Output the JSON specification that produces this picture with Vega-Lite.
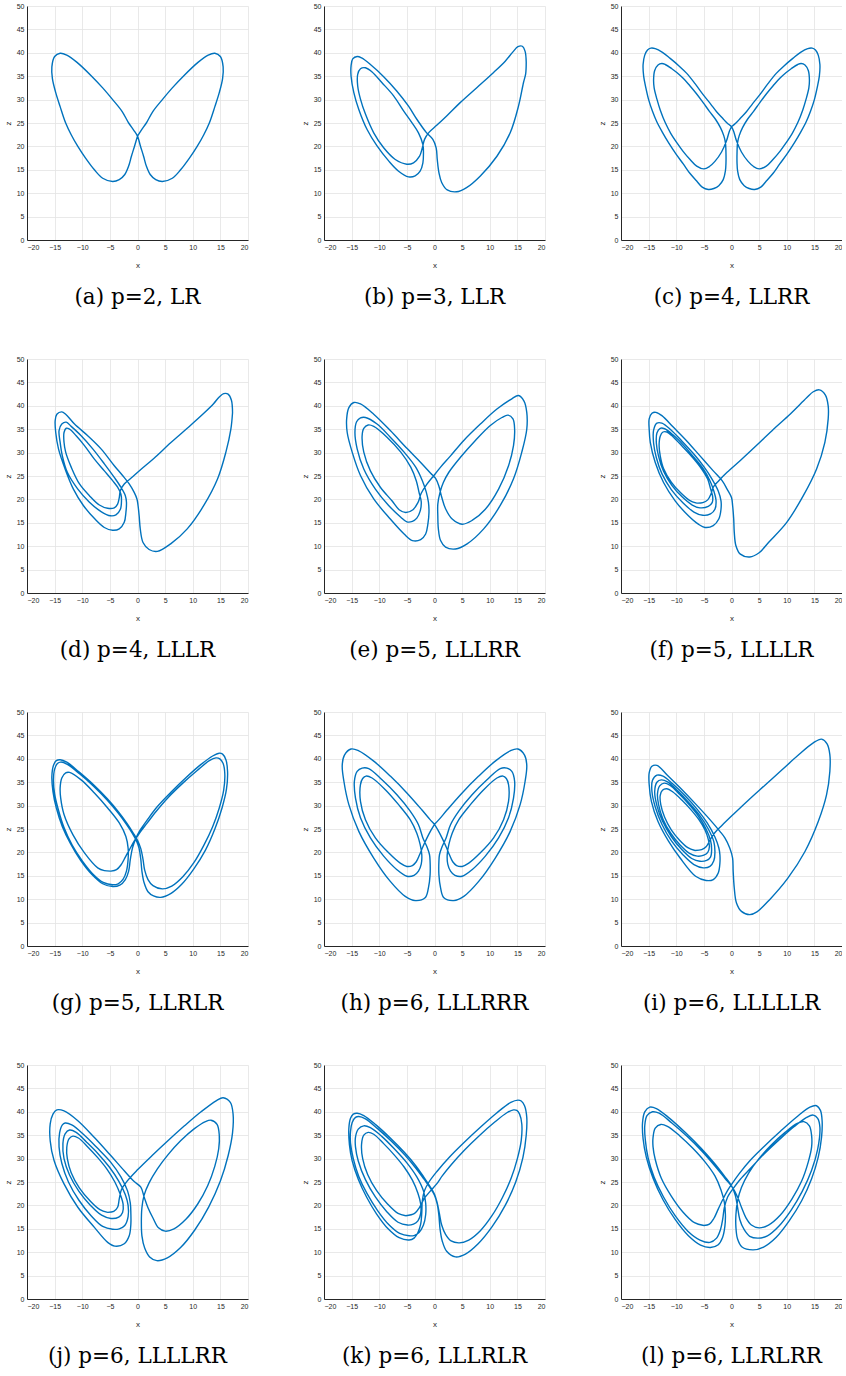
{
  "$schema": "https://vega.github.io/schema/vega-lite/v6.json",
  "background": "white",
  "padding": {"left": 4, "top": 2, "right": 0, "bottom": 0},
  "datasets": {
    "captions": [
      {"p": "a", "caption": "(a) p=2, LR"},
      {"p": "b", "caption": "(b) p=3, LLR"},
      {"p": "c", "caption": "(c) p=4, LLRR"},
      {"p": "d", "caption": "(d) p=4, LLLR"},
      {"p": "e", "caption": "(e) p=5, LLLRR"},
      {"p": "f", "caption": "(f) p=5, LLLLR"},
      {"p": "g", "caption": "(g) p=5, LLRLR"},
      {"p": "h", "caption": "(h) p=6, LLLRRR"},
      {"p": "i", "caption": "(i) p=6, LLLLLR"},
      {"p": "j", "caption": "(j) p=6, LLLLRR"},
      {"p": "k", "caption": "(k) p=6, LLLRLR"},
      {"p": "l", "caption": "(l) p=6, LLRLRR"}
    ],
    "orbits": [
      {"p":"a","x":0,"z":22.2},{"p":"a","x":-0.5,"z":20.2},{"p":"a","x":-1.1,"z":17.9},{"p":"a","x":-1.6,"z":15.8},{"p":"a","x":-2.3,"z":14},{"p":"a","x":-3.3,"z":12.9},{"p":"a","x":-4.5,"z":12.5},{"p":"a","x":-6.3,"z":13.2},{"p":"a","x":-7.8,"z":15},{"p":"a","x":-9.4,"z":17.5},{"p":"a","x":-10.8,"z":20},{"p":"a","x":-12,"z":22.5},{"p":"a","x":-13,"z":25},{"p":"a","x":-14,"z":28.5},{"p":"a","x":-14.8,"z":31.5},{"p":"a","x":-15.4,"z":34.5},{"p":"a","x":-15.5,"z":37},{"p":"a","x":-15,"z":39.2},{"p":"a","x":-14,"z":39.9},{"p":"a","x":-12.8,"z":39.5},{"p":"a","x":-11,"z":38},{"p":"a","x":-8.3,"z":35},{"p":"a","x":-6.3,"z":32.5},{"p":"a","x":-4.5,"z":30},{"p":"a","x":-2.8,"z":27.5},{"p":"a","x":-1.6,"z":25},{"p":"a","x":-0.7,"z":23.5},
      {"p":"a","x":0,"z":22.2},{"p":"a","x":0.5,"z":20.2},{"p":"a","x":1.1,"z":17.9},{"p":"a","x":1.6,"z":15.8},{"p":"a","x":2.3,"z":14},{"p":"a","x":3.3,"z":12.9},{"p":"a","x":4.5,"z":12.5},{"p":"a","x":6.3,"z":13.2},{"p":"a","x":7.8,"z":15},{"p":"a","x":9.4,"z":17.5},{"p":"a","x":10.8,"z":20},{"p":"a","x":12,"z":22.5},{"p":"a","x":13,"z":25},{"p":"a","x":14,"z":28.5},{"p":"a","x":14.8,"z":31.5},{"p":"a","x":15.4,"z":34.5},{"p":"a","x":15.5,"z":37},{"p":"a","x":15,"z":39.2},{"p":"a","x":14,"z":39.9},{"p":"a","x":12.8,"z":39.5},{"p":"a","x":11,"z":38},{"p":"a","x":8.3,"z":35},{"p":"a","x":6.3,"z":32.5},{"p":"a","x":4.5,"z":30},{"p":"a","x":2.8,"z":27.5},{"p":"a","x":1.6,"z":25},{"p":"a","x":0.7,"z":23.5},{"p":"a","x":0,"z":22.2},

      {"p":"b","x":16.6,"z":38},{"p":"b","x":16.5,"z":35.5},{"p":"b","x":16.1,"z":33.6},{"p":"b","x":15.2,"z":28.6},{"p":"b","x":13.7,"z":22.9},{"p":"b","x":11.3,"z":17.9},{"p":"b","x":8.3,"z":13.7},{"p":"b","x":5.8,"z":11.2},{"p":"b","x":4,"z":10.3},{"p":"b","x":2.3,"z":10.7},{"p":"b","x":1.3,"z":12.3},{"p":"b","x":0.8,"z":14.4},{"p":"b","x":0.5,"z":17.2},{"p":"b","x":0.3,"z":19.7},{"p":"b","x":-0.3,"z":21.5},{"p":"b","x":-1.5,"z":23},{"p":"b","x":-3.2,"z":25.8},{"p":"b","x":-4.7,"z":28.6},{"p":"b","x":-6.8,"z":31.8},{"p":"b","x":-9.2,"z":34.9},{"p":"b","x":-11.6,"z":37.5},{"p":"b","x":-13.2,"z":38.9},{"p":"b","x":-14,"z":39.2},{"p":"b","x":-14.8,"z":38.7},{"p":"b","x":-15.1,"z":37.2},{"p":"b","x":-15.1,"z":35},{"p":"b","x":-14.6,"z":31.5},{"p":"b","x":-13.7,"z":27.9},{"p":"b","x":-12.2,"z":23.6},{"p":"b","x":-10.4,"z":20.1},{"p":"b","x":-8.3,"z":16.9},{"p":"b","x":-6.5,"z":14.7},{"p":"b","x":-4.7,"z":13.5},{"p":"b","x":-3.5,"z":13.7},{"p":"b","x":-2.6,"z":14.7},{"p":"b","x":-2.1,"z":16.5},{"p":"b","x":-2,"z":18.7},{"p":"b","x":-2.1,"z":20.4},{"p":"b","x":-2.9,"z":22.9},{"p":"b","x":-4.1,"z":25.1},{"p":"b","x":-5.6,"z":27.6},{"p":"b","x":-7.4,"z":30.8},{"p":"b","x":-9.5,"z":33.6},{"p":"b","x":-11.3,"z":35.9},{"p":"b","x":-12.5,"z":36.8},{"p":"b","x":-13.4,"z":36.6},{"p":"b","x":-13.9,"z":35.4},{"p":"b","x":-13.9,"z":32.9},{"p":"b","x":-13.4,"z":30.1},{"p":"b","x":-12.5,"z":26.9},{"p":"b","x":-11,"z":22.9},{"p":"b","x":-9.2,"z":19.7},{"p":"b","x":-7.1,"z":17.2},{"p":"b","x":-5,"z":16.2},{"p":"b","x":-3.8,"z":16.5},{"p":"b","x":-2.7,"z":17.9},{"p":"b","x":-2.2,"z":19.7},{"p":"b","x":-1.8,"z":21.5},{"p":"b","x":-1,"z":23},{"p":"b","x":0.4,"z":24.5},{"p":"b","x":2.2,"z":26.5},{"p":"b","x":4.6,"z":29.3},{"p":"b","x":7.7,"z":32.6},{"p":"b","x":10.7,"z":35.8},{"p":"b","x":12.8,"z":38.2},{"p":"b","x":14.2,"z":40.2},{"p":"b","x":15.1,"z":41.3},{"p":"b","x":15.9,"z":41.4},{"p":"b","x":16.4,"z":40.3},{"p":"b","x":16.6,"z":38},

      {"p":"c","x":0,"z":24.2},{"p":"c","x":-0.4,"z":23.2},{"p":"c","x":-0.9,"z":21.2},{"p":"c","x":-1.8,"z":18.8},{"p":"c","x":-3,"z":16.8},{"p":"c","x":-4,"z":15.7},{"p":"c","x":-5,"z":15.2},{"p":"c","x":-6.3,"z":15.8},{"p":"c","x":-7.5,"z":17.2},{"p":"c","x":-8.8,"z":19},{"p":"c","x":-9.9,"z":20.8},{"p":"c","x":-11,"z":22.8},{"p":"c","x":-12,"z":25.1},{"p":"c","x":-12.9,"z":27.8},{"p":"c","x":-13.5,"z":30.1},{"p":"c","x":-14,"z":32.5},{"p":"c","x":-14.1,"z":34.3},{"p":"c","x":-13.9,"z":36.2},{"p":"c","x":-13.3,"z":37.4},{"p":"c","x":-12.6,"z":37.7},{"p":"c","x":-12,"z":37.5},{"p":"c","x":-10.8,"z":36.6},{"p":"c","x":-9.9,"z":35.8},{"p":"c","x":-8.7,"z":34.5},{"p":"c","x":-7.5,"z":32.9},{"p":"c","x":-6.3,"z":31.2},{"p":"c","x":-5.1,"z":29.3},{"p":"c","x":-4,"z":27.5},{"p":"c","x":-2.9,"z":25.8},{"p":"c","x":-2,"z":24},{"p":"c","x":-1.4,"z":22.3},{"p":"c","x":-1.1,"z":20.8},{"p":"c","x":-1,"z":18.5},{"p":"c","x":-1,"z":16.5},{"p":"c","x":-1.1,"z":14.8},{"p":"c","x":-1.5,"z":12.9},{"p":"c","x":-2.3,"z":11.6},{"p":"c","x":-3.2,"z":11},{"p":"c","x":-4.2,"z":10.8},{"p":"c","x":-5.3,"z":11.3},{"p":"c","x":-6.3,"z":12.6},{"p":"c","x":-7.5,"z":14.2},{"p":"c","x":-8.7,"z":16.2},{"p":"c","x":-10,"z":18.3},{"p":"c","x":-11.4,"z":20.8},{"p":"c","x":-12.5,"z":23},{"p":"c","x":-13.5,"z":25.2},{"p":"c","x":-14.3,"z":27.5},{"p":"c","x":-15,"z":30},{"p":"c","x":-15.5,"z":32.5},{"p":"c","x":-15.9,"z":35},{"p":"c","x":-16,"z":37.5},{"p":"c","x":-15.7,"z":39.5},{"p":"c","x":-15.2,"z":40.6},{"p":"c","x":-14.6,"z":41},{"p":"c","x":-13.8,"z":40.9},{"p":"c","x":-12.5,"z":40.1},{"p":"c","x":-11.1,"z":38.8},{"p":"c","x":-9.5,"z":37.2},{"p":"c","x":-8.1,"z":35.6},{"p":"c","x":-6.6,"z":33.4},{"p":"c","x":-5.1,"z":31},{"p":"c","x":-3.8,"z":29.1},{"p":"c","x":-2.7,"z":27.4},{"p":"c","x":-1.6,"z":26},{"p":"c","x":-0.8,"z":25},
      {"p":"c","x":0,"z":24.2},{"p":"c","x":0.4,"z":23.2},{"p":"c","x":0.9,"z":21.2},{"p":"c","x":1.8,"z":18.8},{"p":"c","x":3,"z":16.8},{"p":"c","x":4,"z":15.7},{"p":"c","x":5,"z":15.2},{"p":"c","x":6.3,"z":15.8},{"p":"c","x":7.5,"z":17.2},{"p":"c","x":8.8,"z":19},{"p":"c","x":9.9,"z":20.8},{"p":"c","x":11,"z":22.8},{"p":"c","x":12,"z":25.1},{"p":"c","x":12.9,"z":27.8},{"p":"c","x":13.5,"z":30.1},{"p":"c","x":14,"z":32.5},{"p":"c","x":14.1,"z":34.3},{"p":"c","x":13.9,"z":36.2},{"p":"c","x":13.3,"z":37.4},{"p":"c","x":12.6,"z":37.7},{"p":"c","x":12,"z":37.5},{"p":"c","x":10.8,"z":36.6},{"p":"c","x":9.9,"z":35.8},{"p":"c","x":8.7,"z":34.5},{"p":"c","x":7.5,"z":32.9},{"p":"c","x":6.3,"z":31.2},{"p":"c","x":5.1,"z":29.3},{"p":"c","x":4,"z":27.5},{"p":"c","x":2.9,"z":25.8},{"p":"c","x":2,"z":24},{"p":"c","x":1.4,"z":22.3},{"p":"c","x":1.1,"z":20.8},{"p":"c","x":1,"z":18.5},{"p":"c","x":1,"z":16.5},{"p":"c","x":1.1,"z":14.8},{"p":"c","x":1.5,"z":12.9},{"p":"c","x":2.3,"z":11.6},{"p":"c","x":3.2,"z":11},{"p":"c","x":4.2,"z":10.8},{"p":"c","x":5.3,"z":11.3},{"p":"c","x":6.3,"z":12.6},{"p":"c","x":7.5,"z":14.2},{"p":"c","x":8.7,"z":16.2},{"p":"c","x":10,"z":18.3},{"p":"c","x":11.4,"z":20.8},{"p":"c","x":12.5,"z":23},{"p":"c","x":13.5,"z":25.2},{"p":"c","x":14.3,"z":27.5},{"p":"c","x":15,"z":30},{"p":"c","x":15.5,"z":32.5},{"p":"c","x":15.9,"z":35},{"p":"c","x":16,"z":37.5},{"p":"c","x":15.7,"z":39.5},{"p":"c","x":15.2,"z":40.6},{"p":"c","x":14.6,"z":41},{"p":"c","x":13.8,"z":40.9},{"p":"c","x":12.5,"z":40.1},{"p":"c","x":11.1,"z":38.8},{"p":"c","x":9.5,"z":37.2},{"p":"c","x":8.1,"z":35.6},{"p":"c","x":6.6,"z":33.4},{"p":"c","x":5.1,"z":31},{"p":"c","x":3.8,"z":29.1},{"p":"c","x":2.7,"z":27.4},{"p":"c","x":1.6,"z":26},{"p":"c","x":0.8,"z":25},{"p":"c","x":0,"z":24.2},

      {"p":"d","x":17.2,"z":38.5},{"p":"d","x":16.9,"z":35},{"p":"d","x":16,"z":30.1},{"p":"d","x":14.5,"z":24.4},{"p":"d","x":12,"z":18.7},{"p":"d","x":9,"z":13.7},{"p":"d","x":6,"z":10.5},{"p":"d","x":3.6,"z":8.9},{"p":"d","x":2.1,"z":9.3},{"p":"d","x":1,"z":10.8},{"p":"d","x":0.5,"z":13.7},{"p":"d","x":0.3,"z":16.5},{"p":"d","x":0.1,"z":18.7},{"p":"d","x":-0.1,"z":20.1},{"p":"d","x":-0.6,"z":21.5},{"p":"d","x":-1.5,"z":23.3},{"p":"d","x":-2.7,"z":25.1},{"p":"d","x":-4.2,"z":27.2},{"p":"d","x":-6.6,"z":30.8},{"p":"d","x":-9,"z":33.6},{"p":"d","x":-11.4,"z":36.1},{"p":"d","x":-13,"z":38.2},{"p":"d","x":-13.7,"z":38.7},{"p":"d","x":-14.6,"z":38.2},{"p":"d","x":-14.9,"z":36.8},{"p":"d","x":-14.8,"z":34.3},{"p":"d","x":-14.3,"z":30.8},{"p":"d","x":-13.1,"z":26.5},{"p":"d","x":-11.6,"z":22.2},{"p":"d","x":-9.8,"z":18.7},{"p":"d","x":-7.7,"z":15.8},{"p":"d","x":-6,"z":14},{"p":"d","x":-4.5,"z":13.4},{"p":"d","x":-3.3,"z":13.7},{"p":"d","x":-2.4,"z":15.1},{"p":"d","x":-2.1,"z":17.2},{"p":"d","x":-2,"z":19.4},{"p":"d","x":-2.2,"z":20.8},{"p":"d","x":-3,"z":22.6},{"p":"d","x":-4.2,"z":24.7},{"p":"d","x":-6,"z":27.6},{"p":"d","x":-8.1,"z":30.8},{"p":"d","x":-10.2,"z":33.6},{"p":"d","x":-12,"z":35.6},{"p":"d","x":-12.9,"z":36.5},{"p":"d","x":-13.7,"z":36.1},{"p":"d","x":-14.2,"z":34.7},{"p":"d","x":-14,"z":32.2},{"p":"d","x":-13.6,"z":29.3},{"p":"d","x":-12.7,"z":25.8},{"p":"d","x":-10.8,"z":22.2},{"p":"d","x":-8.7,"z":19.4},{"p":"d","x":-6.6,"z":17.4},{"p":"d","x":-4.9,"z":16.5},{"p":"d","x":-3.9,"z":16.7},{"p":"d","x":-3.1,"z":17.9},{"p":"d","x":-2.9,"z":19.7},{"p":"d","x":-3,"z":21.1},{"p":"d","x":-3.6,"z":22.6},{"p":"d","x":-4.5,"z":24},{"p":"d","x":-6,"z":26.1},{"p":"d","x":-7.8,"z":28.6},{"p":"d","x":-9.6,"z":31.5},{"p":"d","x":-11.1,"z":33.6},{"p":"d","x":-12.3,"z":35},{"p":"d","x":-12.9,"z":35.2},{"p":"d","x":-13.3,"z":34.3},{"p":"d","x":-13.3,"z":32.2},{"p":"d","x":-13,"z":30.1},{"p":"d","x":-12,"z":26.9},{"p":"d","x":-10.5,"z":23.3},{"p":"d","x":-8.7,"z":20.8},{"p":"d","x":-6.9,"z":18.8},{"p":"d","x":-5.4,"z":18.1},{"p":"d","x":-4.2,"z":18.2},{"p":"d","x":-3.6,"z":19},{"p":"d","x":-3.3,"z":20.4},{"p":"d","x":-3.1,"z":21.9},{"p":"d","x":-2.4,"z":23.3},{"p":"d","x":-1.2,"z":24.5},{"p":"d","x":0.6,"z":26.4},{"p":"d","x":3,"z":28.8},{"p":"d","x":6,"z":32.1},{"p":"d","x":9,"z":35.2},{"p":"d","x":12,"z":38.4},{"p":"d","x":13.8,"z":40.5},{"p":"d","x":14.8,"z":41.9},{"p":"d","x":15.6,"z":42.6},{"p":"d","x":16.4,"z":42.5},{"p":"d","x":17,"z":41.2},{"p":"d","x":17.2,"z":38.5},

      {"p":"e","x":-0.1,"z":25.1},{"p":"e","x":-1.4,"z":23.2},{"p":"e","x":-2.4,"z":21.3},{"p":"e","x":-3,"z":19.3},{"p":"e","x":-3.9,"z":17.8},{"p":"e","x":-5.2,"z":17.2},{"p":"e","x":-6.4,"z":17.8},{"p":"e","x":-7.7,"z":19.7},{"p":"e","x":-9.8,"z":22.6},{"p":"e","x":-11.6,"z":26.1},{"p":"e","x":-12.8,"z":30.1},{"p":"e","x":-13.1,"z":33.6},{"p":"e","x":-12.8,"z":35.2},{"p":"e","x":-12,"z":35.9},{"p":"e","x":-11,"z":35.6},{"p":"e","x":-8.6,"z":33.3},{"p":"e","x":-6.1,"z":30.1},{"p":"e","x":-4.3,"z":26.9},{"p":"e","x":-3.3,"z":24},{"p":"e","x":-2.8,"z":21.5},{"p":"e","x":-2.4,"z":19.5},{"p":"e","x":-2.6,"z":17.5},{"p":"e","x":-3.2,"z":16},{"p":"e","x":-4,"z":15.3},{"p":"e","x":-5,"z":15.2},{"p":"e","x":-6.1,"z":16.2},{"p":"e","x":-8.3,"z":18.7},{"p":"e","x":-10.7,"z":22.2},{"p":"e","x":-12.8,"z":26.5},{"p":"e","x":-14,"z":30.8},{"p":"e","x":-14.4,"z":34.3},{"p":"e","x":-14.1,"z":36.6},{"p":"e","x":-13.4,"z":37.4},{"p":"e","x":-12.5,"z":37.5},{"p":"e","x":-10.4,"z":36.1},{"p":"e","x":-8,"z":33.3},{"p":"e","x":-5.5,"z":30.1},{"p":"e","x":-3.4,"z":26.9},{"p":"e","x":-2.2,"z":24},{"p":"e","x":-1.5,"z":21.6},{"p":"e","x":-1.1,"z":19.4},{"p":"e","x":-1,"z":17.2},{"p":"e","x":-1.2,"z":14.7},{"p":"e","x":-1.6,"z":12.6},{"p":"e","x":-2.5,"z":11.4},{"p":"e","x":-4,"z":11.2},{"p":"e","x":-5.5,"z":12.6},{"p":"e","x":-8,"z":15.8},{"p":"e","x":-11,"z":20.1},{"p":"e","x":-13.4,"z":25.1},{"p":"e","x":-14.9,"z":30.1},{"p":"e","x":-15.8,"z":34.3},{"p":"e","x":-15.9,"z":37.2},{"p":"e","x":-15.5,"z":39.6},{"p":"e","x":-14.6,"z":40.7},{"p":"e","x":-13.4,"z":40.4},{"p":"e","x":-11,"z":38.2},{"p":"e","x":-8,"z":34.7},{"p":"e","x":-4.9,"z":30.8},{"p":"e","x":-2.5,"z":27.9},{"p":"e","x":-0.7,"z":25.6},{"p":"e","x":0.2,"z":24.5},{"p":"e","x":0.8,"z":22.8},{"p":"e","x":1.3,"z":20.5},{"p":"e","x":2,"z":18},{"p":"e","x":3.2,"z":15.8},{"p":"e","x":5,"z":14.7},{"p":"e","x":6.8,"z":15.5},{"p":"e","x":9.2,"z":17.9},{"p":"e","x":11.6,"z":22.2},{"p":"e","x":13.4,"z":27.2},{"p":"e","x":14.3,"z":31.5},{"p":"e","x":14.5,"z":35},{"p":"e","x":14.2,"z":37.2},{"p":"e","x":13.3,"z":38},{"p":"e","x":12.2,"z":37.5},{"p":"e","x":10.1,"z":35.8},{"p":"e","x":7.4,"z":32.6},{"p":"e","x":4.7,"z":29},{"p":"e","x":2.6,"z":25.8},{"p":"e","x":1.6,"z":23.6},{"p":"e","x":1,"z":21.5},{"p":"e","x":0.6,"z":19},{"p":"e","x":0.6,"z":16.5},{"p":"e","x":0.7,"z":13.7},{"p":"e","x":1.1,"z":11.2},{"p":"e","x":2,"z":9.8},{"p":"e","x":3.8,"z":9.4},{"p":"e","x":5.9,"z":10.5},{"p":"e","x":8.9,"z":13.7},{"p":"e","x":11.9,"z":18.7},{"p":"e","x":14.3,"z":24.4},{"p":"e","x":15.8,"z":30.1},{"p":"e","x":16.7,"z":35},{"p":"e","x":16.7,"z":38.6},{"p":"e","x":16.2,"z":41},{"p":"e","x":15.2,"z":42.2},{"p":"e","x":14,"z":41.5},{"p":"e","x":11.3,"z":39.3},{"p":"e","x":8.3,"z":36.1},{"p":"e","x":5.3,"z":32.6},{"p":"e","x":2.9,"z":29.3},{"p":"e","x":1.1,"z":26.9},{"p":"e","x":-0.1,"z":25.1},

      {"p":"f","x":-6.3,"z":19.2},{"p":"f","x":-7.6,"z":19.8},{"p":"f","x":-9.2,"z":21.4},{"p":"f","x":-10.9,"z":23.7},{"p":"f","x":-12.3,"z":26.6},{"p":"f","x":-12.9,"z":29.3},{"p":"f","x":-13.1,"z":31.5},{"p":"f","x":-12.9,"z":33.5},{"p":"f","x":-12.4,"z":34.4},{"p":"f","x":-11.7,"z":34.4},{"p":"f","x":-10.5,"z":33.3},{"p":"f","x":-8.8,"z":31.2},{"p":"f","x":-7,"z":28.9},{"p":"f","x":-5.4,"z":26.5},{"p":"f","x":-4.3,"z":24.3},{"p":"f","x":-3.8,"z":22.3},{"p":"f","x":-3.4,"z":20.5},{"p":"f","x":-3.5,"z":19.3},{"p":"f","x":-4.2,"z":18.5},{"p":"f","x":-5.7,"z":18.2},{"p":"f","x":-7.1,"z":18.8},{"p":"f","x":-8.9,"z":20.5},{"p":"f","x":-10.8,"z":23},{"p":"f","x":-12.3,"z":26},{"p":"f","x":-13.2,"z":29.2},{"p":"f","x":-13.6,"z":32},{"p":"f","x":-13.5,"z":34.2},{"p":"f","x":-12.9,"z":35.2},{"p":"f","x":-12.1,"z":35.1},{"p":"f","x":-10.6,"z":33.8},{"p":"f","x":-8.7,"z":31.6},{"p":"f","x":-6.8,"z":29},{"p":"f","x":-5.1,"z":26.5},{"p":"f","x":-3.9,"z":24},{"p":"f","x":-3.2,"z":21.8},{"p":"f","x":-2.8,"z":19.8},{"p":"f","x":-3,"z":17.9},{"p":"f","x":-3.8,"z":16.9},{"p":"f","x":-5.2,"z":16.6},{"p":"f","x":-6.8,"z":17.3},{"p":"f","x":-8.8,"z":19.3},{"p":"f","x":-10.9,"z":22.1},{"p":"f","x":-12.6,"z":25.5},{"p":"f","x":-13.6,"z":28.9},{"p":"f","x":-14.1,"z":32},{"p":"f","x":-14.1,"z":34.8},{"p":"f","x":-13.5,"z":36.3},{"p":"f","x":-12.6,"z":36.3},{"p":"f","x":-11,"z":34.9},{"p":"f","x":-9,"z":32.5},{"p":"f","x":-6.9,"z":29.8},{"p":"f","x":-5,"z":27},{"p":"f","x":-3.5,"z":24.3},{"p":"f","x":-2.4,"z":21.8},{"p":"f","x":-1.9,"z":19.7},{"p":"f","x":-1.9,"z":17.9},{"p":"f","x":-2.3,"z":15.8},{"p":"f","x":-3.3,"z":14.4},{"p":"f","x":-4.8,"z":14},{"p":"f","x":-6,"z":14.7},{"p":"f","x":-7.8,"z":16.5},{"p":"f","x":-10.2,"z":19.7},{"p":"f","x":-12.3,"z":23.6},{"p":"f","x":-13.8,"z":27.9},{"p":"f","x":-14.7,"z":32.2},{"p":"f","x":-14.9,"z":35},{"p":"f","x":-14.9,"z":37.2},{"p":"f","x":-14.4,"z":38.4},{"p":"f","x":-13.7,"z":38.6},{"p":"f","x":-12.6,"z":37.9},{"p":"f","x":-10.5,"z":35.4},{"p":"f","x":-8.1,"z":32.5},{"p":"f","x":-5.7,"z":29.3},{"p":"f","x":-3.3,"z":26.1},{"p":"f","x":-1.7,"z":24},{"p":"f","x":-0.8,"z":22.2},{"p":"f","x":0,"z":20.4},{"p":"f","x":0.2,"z":18.7},{"p":"f","x":0.4,"z":15.8},{"p":"f","x":0.5,"z":13},{"p":"f","x":0.8,"z":10.1},{"p":"f","x":1.6,"z":8.3},{"p":"f","x":3.3,"z":7.7},{"p":"f","x":5,"z":8.6},{"p":"f","x":6.7,"z":10.8},{"p":"f","x":10,"z":15.1},{"p":"f","x":13,"z":20.8},{"p":"f","x":15.4,"z":26.5},{"p":"f","x":16.9,"z":32.2},{"p":"f","x":17.5,"z":37.2},{"p":"f","x":17.5,"z":40},{"p":"f","x":17,"z":42.3},{"p":"f","x":15.9,"z":43.4},{"p":"f","x":14.8,"z":43},{"p":"f","x":13.6,"z":41.7},{"p":"f","x":10.6,"z":38.2},{"p":"f","x":7.6,"z":35},{"p":"f","x":4.6,"z":31.6},{"p":"f","x":1.6,"z":28.3},{"p":"f","x":-0.8,"z":25.8},{"p":"f","x":-2.3,"z":24},{"p":"f","x":-3.3,"z":22.6},{"p":"f","x":-3.7,"z":21.2},{"p":"f","x":-4.3,"z":19.9},{"p":"f","x":-5.2,"z":19.3},{"p":"f","x":-6.3,"z":19.2},

      {"p":"g","x":-4.8,"z":16},{"p":"g","x":-6,"z":16.1},{"p":"g","x":-7.2,"z":16.7},{"p":"g","x":-9.6,"z":19.9},{"p":"g","x":-11.7,"z":23.8},{"p":"g","x":-13.3,"z":28.1},{"p":"g","x":-13.9,"z":31.6},{"p":"g","x":-14,"z":33.8},{"p":"g","x":-13.7,"z":35.9},{"p":"g","x":-13,"z":37},{"p":"g","x":-12.3,"z":37.1},{"p":"g","x":-10.2,"z":35.5},{"p":"g","x":-7.8,"z":32.7},{"p":"g","x":-5.4,"z":29.5},{"p":"g","x":-3.3,"z":26.3},{"p":"g","x":-2.1,"z":23.4},{"p":"g","x":-1.7,"z":20.9},{"p":"g","x":-1.7,"z":18.5},{"p":"g","x":-2,"z":16},{"p":"g","x":-2.6,"z":14.3},{"p":"g","x":-3.5,"z":13.3},{"p":"g","x":-4.5,"z":13.1},
      {"p":"g","x":-6.2,"z":13.6},{"p":"g","x":-8,"z":15.3},{"p":"g","x":-10,"z":18.2},{"p":"g","x":-11.8,"z":21.5},{"p":"g","x":-13.3,"z":25.3},{"p":"g","x":-14.3,"z":29},{"p":"g","x":-15,"z":32.5},{"p":"g","x":-15.2,"z":35.5},{"p":"g","x":-15,"z":37.8},{"p":"g","x":-14.5,"z":39},{"p":"g","x":-13.9,"z":39.3},{"p":"g","x":-12.7,"z":38.8},{"p":"g","x":-10.5,"z":36.8},{"p":"g","x":-8,"z":34.2},{"p":"g","x":-5.5,"z":31.2},{"p":"g","x":-3.5,"z":28.4},{"p":"g","x":-2,"z":26},{"p":"g","x":-0.9,"z":24},{"p":"g","x":-0.2,"z":22.5},{"p":"g","x":0.3,"z":20.8},{"p":"g","x":0.6,"z":18.5},{"p":"g","x":0.8,"z":16},{"p":"g","x":1.2,"z":13.5},{"p":"g","x":1.9,"z":11.6},{"p":"g","x":2.9,"z":10.7},{"p":"g","x":4.2,"z":10.4},
      {"p":"g","x":6,"z":11.2},{"p":"g","x":8,"z":13.2},{"p":"g","x":10.2,"z":16.5},{"p":"g","x":12.3,"z":20.5},{"p":"g","x":14,"z":25},{"p":"g","x":15.3,"z":29.5},{"p":"g","x":16.1,"z":33.5},{"p":"g","x":16.3,"z":37.3},{"p":"g","x":16,"z":39.8},{"p":"g","x":15.4,"z":41},{"p":"g","x":14.8,"z":41.2},{"p":"g","x":13.6,"z":40.6},{"p":"g","x":11.5,"z":38.8},{"p":"g","x":8.8,"z":36},{"p":"g","x":6,"z":32.8},{"p":"g","x":3.6,"z":29.8},{"p":"g","x":1.8,"z":27},{"p":"g","x":0.5,"z":24.8},{"p":"g","x":-0.3,"z":23},{"p":"g","x":-0.9,"z":21},{"p":"g","x":-1.3,"z":18.5},{"p":"g","x":-1.6,"z":16},{"p":"g","x":-2.2,"z":14.2},{"p":"g","x":-3.2,"z":13},{"p":"g","x":-4.5,"z":12.7},
      {"p":"g","x":-6.3,"z":13.3},{"p":"g","x":-8.2,"z":15.2},{"p":"g","x":-10.3,"z":18.3},{"p":"g","x":-12.1,"z":21.8},{"p":"g","x":-13.6,"z":25.5},{"p":"g","x":-14.7,"z":29.5},{"p":"g","x":-15.3,"z":33},{"p":"g","x":-15.5,"z":36.2},{"p":"g","x":-15.2,"z":38.6},{"p":"g","x":-14.7,"z":39.6},{"p":"g","x":-14,"z":39.8},{"p":"g","x":-12.8,"z":39.3},{"p":"g","x":-10.6,"z":37.2},{"p":"g","x":-8,"z":34.5},{"p":"g","x":-5.5,"z":31.5},{"p":"g","x":-3.4,"z":28.6},{"p":"g","x":-1.9,"z":26.2},{"p":"g","x":-0.8,"z":24.2},{"p":"g","x":0,"z":22.6},{"p":"g","x":0.6,"z":20.8},{"p":"g","x":1,"z":18.5},{"p":"g","x":1.3,"z":16.2},{"p":"g","x":1.9,"z":14.2},{"p":"g","x":2.8,"z":12.9},{"p":"g","x":4.5,"z":12.2},
      {"p":"g","x":6.2,"z":12.8},{"p":"g","x":8.2,"z":14.8},{"p":"g","x":10.2,"z":17.8},{"p":"g","x":12,"z":21.5},{"p":"g","x":13.6,"z":25.5},{"p":"g","x":14.8,"z":29.5},{"p":"g","x":15.6,"z":33.3},{"p":"g","x":15.8,"z":36.8},{"p":"g","x":15.5,"z":39},{"p":"g","x":14.9,"z":40},{"p":"g","x":14.2,"z":40.2},{"p":"g","x":13,"z":39.6},{"p":"g","x":10.8,"z":37.5},{"p":"g","x":8.2,"z":34.8},{"p":"g","x":5.6,"z":31.8},{"p":"g","x":3.4,"z":28.8},{"p":"g","x":1.7,"z":26.2},{"p":"g","x":0.4,"z":24.2},{"p":"g","x":-0.6,"z":22.4},{"p":"g","x":-1.5,"z":20.5},{"p":"g","x":-2.2,"z":19},{"p":"g","x":-3,"z":17.3},{"p":"g","x":-3.8,"z":16.3},{"p":"g","x":-4.8,"z":16},

      {"p":"h","x":0,"z":26},{"p":"h","x":-0.6,"z":24.8},{"p":"h","x":-1.4,"z":23},{"p":"h","x":-2.1,"z":21.2},{"p":"h","x":-2.7,"z":19.5},{"p":"h","x":-3.3,"z":18},{"p":"h","x":-4,"z":17.2},{"p":"h","x":-5,"z":17},{"p":"h","x":-6.2,"z":17.7},{"p":"h","x":-8.3,"z":19.9},{"p":"h","x":-10.7,"z":23.1},{"p":"h","x":-12.5,"z":27},{"p":"h","x":-13.4,"z":30.9},{"p":"h","x":-13.4,"z":34.5},{"p":"h","x":-13,"z":35.8},{"p":"h","x":-12.4,"z":36.3},{"p":"h","x":-11.3,"z":35.9},{"p":"h","x":-8.9,"z":33.4},{"p":"h","x":-6.5,"z":30.2},{"p":"h","x":-4.4,"z":27},{"p":"h","x":-3.2,"z":24.1},{"p":"h","x":-2.6,"z":21.7},{"p":"h","x":-2.3,"z":19.5},{"p":"h","x":-2.4,"z":17.5},{"p":"h","x":-2.9,"z":16},{"p":"h","x":-3.7,"z":15.1},{"p":"h","x":-5,"z":14.9},{"p":"h","x":-6.8,"z":16.3},{"p":"h","x":-9.2,"z":19.2},{"p":"h","x":-11.6,"z":23.1},{"p":"h","x":-13.4,"z":27.4},{"p":"h","x":-14.3,"z":31.6},{"p":"h","x":-14.5,"z":35.2},{"p":"h","x":-14,"z":37.3},{"p":"h","x":-13.1,"z":38},{"p":"h","x":-11.9,"z":37.9},{"p":"h","x":-9.5,"z":35.5},{"p":"h","x":-6.8,"z":32.3},{"p":"h","x":-4.4,"z":28.8},{"p":"h","x":-2.9,"z":25.9},{"p":"h","x":-2.1,"z":23.1},{"p":"h","x":-1.3,"z":21},{"p":"h","x":-0.9,"z":19.5},{"p":"h","x":-0.8,"z":18.1},{"p":"h","x":-0.8,"z":15.2},{"p":"h","x":-1.1,"z":12.4},{"p":"h","x":-1.7,"z":10.3},{"p":"h","x":-3.5,"z":9.7},{"p":"h","x":-5.3,"z":10.6},{"p":"h","x":-8,"z":13.8},{"p":"h","x":-11,"z":18.8},{"p":"h","x":-13.7,"z":24.5},{"p":"h","x":-15.5,"z":30.2},{"p":"h","x":-16.4,"z":35.2},{"p":"h","x":-16.7,"z":38.6},{"p":"h","x":-16.3,"z":40.8},{"p":"h","x":-15.1,"z":42.1},{"p":"h","x":-13.7,"z":41.7},{"p":"h","x":-11,"z":39.5},{"p":"h","x":-8,"z":36.3},{"p":"h","x":-5,"z":32.7},{"p":"h","x":-2.3,"z":29.1},{"p":"h","x":-0.8,"z":27},
      {"p":"h","x":0,"z":26},{"p":"h","x":0.6,"z":24.8},{"p":"h","x":1.4,"z":23},{"p":"h","x":2.1,"z":21.2},{"p":"h","x":2.7,"z":19.5},{"p":"h","x":3.3,"z":18},{"p":"h","x":4,"z":17.2},{"p":"h","x":5,"z":17},{"p":"h","x":6.2,"z":17.7},{"p":"h","x":8.3,"z":19.9},{"p":"h","x":10.7,"z":23.1},{"p":"h","x":12.5,"z":27},{"p":"h","x":13.4,"z":30.9},{"p":"h","x":13.4,"z":34.5},{"p":"h","x":13,"z":35.8},{"p":"h","x":12.4,"z":36.3},{"p":"h","x":11.3,"z":35.9},{"p":"h","x":8.9,"z":33.4},{"p":"h","x":6.5,"z":30.2},{"p":"h","x":4.4,"z":27},{"p":"h","x":3.2,"z":24.1},{"p":"h","x":2.6,"z":21.7},{"p":"h","x":2.3,"z":19.5},{"p":"h","x":2.4,"z":17.5},{"p":"h","x":2.9,"z":16},{"p":"h","x":3.7,"z":15.1},{"p":"h","x":5,"z":14.9},{"p":"h","x":6.8,"z":16.3},{"p":"h","x":9.2,"z":19.2},{"p":"h","x":11.6,"z":23.1},{"p":"h","x":13.4,"z":27.4},{"p":"h","x":14.3,"z":31.6},{"p":"h","x":14.5,"z":35.2},{"p":"h","x":14,"z":37.3},{"p":"h","x":13.1,"z":38},{"p":"h","x":11.9,"z":37.9},{"p":"h","x":9.5,"z":35.5},{"p":"h","x":6.8,"z":32.3},{"p":"h","x":4.4,"z":28.8},{"p":"h","x":2.9,"z":25.9},{"p":"h","x":2.1,"z":23.1},{"p":"h","x":1.3,"z":21},{"p":"h","x":0.9,"z":19.5},{"p":"h","x":0.8,"z":18.1},{"p":"h","x":0.8,"z":15.2},{"p":"h","x":1.1,"z":12.4},{"p":"h","x":1.7,"z":10.3},{"p":"h","x":3.5,"z":9.7},{"p":"h","x":5.3,"z":10.6},{"p":"h","x":8,"z":13.8},{"p":"h","x":11,"z":18.8},{"p":"h","x":13.7,"z":24.5},{"p":"h","x":15.5,"z":30.2},{"p":"h","x":16.4,"z":35.2},{"p":"h","x":16.7,"z":38.6},{"p":"h","x":16.3,"z":40.8},{"p":"h","x":15.1,"z":42.1},{"p":"h","x":13.7,"z":41.7},{"p":"h","x":11,"z":39.5},{"p":"h","x":8,"z":36.3},{"p":"h","x":5,"z":32.7},{"p":"h","x":2.3,"z":29.1},{"p":"h","x":0.8,"z":27},{"p":"h","x":0,"z":26},

      {"p":"i","x":-6.6,"z":20.4},{"p":"i","x":-7.9,"z":21},{"p":"i","x":-9.4,"z":22.6},{"p":"i","x":-10.9,"z":24.8},{"p":"i","x":-12.1,"z":27.5},{"p":"i","x":-12.8,"z":30.2},{"p":"i","x":-12.9,"z":32.2},{"p":"i","x":-12.5,"z":33.3},{"p":"i","x":-11.7,"z":33.6},{"p":"i","x":-10.6,"z":32.9},{"p":"i","x":-9,"z":31.2},{"p":"i","x":-7.4,"z":29.2},{"p":"i","x":-5.9,"z":27},{"p":"i","x":-4.8,"z":24.8},{"p":"i","x":-4.2,"z":22.8},{"p":"i","x":-4,"z":21.2},{"p":"i","x":-4.3,"z":20},{"p":"i","x":-5,"z":19.4},{"p":"i","x":-6.2,"z":19.2},{"p":"i","x":-7.6,"z":19.8},{"p":"i","x":-9.3,"z":21.6},{"p":"i","x":-11,"z":24.1},{"p":"i","x":-12.4,"z":27.1},{"p":"i","x":-13.2,"z":30.2},{"p":"i","x":-13.4,"z":32.5},{"p":"i","x":-13,"z":34.2},{"p":"i","x":-12.2,"z":34.8},{"p":"i","x":-11.1,"z":34.3},{"p":"i","x":-9.4,"z":32.4},{"p":"i","x":-7.6,"z":30.1},{"p":"i","x":-5.9,"z":27.6},{"p":"i","x":-4.6,"z":25},{"p":"i","x":-3.8,"z":22.6},{"p":"i","x":-3.6,"z":20.5},{"p":"i","x":-3.8,"z":19},{"p":"i","x":-4.5,"z":18.3},{"p":"i","x":-5.7,"z":18.1},{"p":"i","x":-7.2,"z":18.7},{"p":"i","x":-9,"z":20.6},{"p":"i","x":-10.9,"z":23.4},{"p":"i","x":-12.5,"z":26.7},{"p":"i","x":-13.5,"z":30},{"p":"i","x":-13.9,"z":33},{"p":"i","x":-13.5,"z":35},{"p":"i","x":-12.7,"z":35.5},{"p":"i","x":-11.5,"z":35},{"p":"i","x":-9.7,"z":33.1},{"p":"i","x":-7.7,"z":30.6},{"p":"i","x":-5.7,"z":27.8},{"p":"i","x":-4.2,"z":25},{"p":"i","x":-3.2,"z":22.3},{"p":"i","x":-3,"z":20},{"p":"i","x":-3.2,"z":18.2},{"p":"i","x":-3.9,"z":17},{"p":"i","x":-5.1,"z":16.7},{"p":"i","x":-6.8,"z":17.4},{"p":"i","x":-8.8,"z":19.5},{"p":"i","x":-10.9,"z":22.5},{"p":"i","x":-12.6,"z":26},{"p":"i","x":-13.8,"z":29.7},{"p":"i","x":-14.4,"z":33},{"p":"i","x":-14.3,"z":35.4},{"p":"i","x":-13.5,"z":36.5},{"p":"i","x":-12.4,"z":36.3},{"p":"i","x":-10.6,"z":34.6},{"p":"i","x":-8.4,"z":32.1},{"p":"i","x":-6.2,"z":29.2},{"p":"i","x":-4.4,"z":26.3},{"p":"i","x":-3,"z":23.3},{"p":"i","x":-2.3,"z":21},{"p":"i","x":-2.1,"z":19.5},{"p":"i","x":-2.1,"z":17.7},{"p":"i","x":-2.4,"z":15.6},{"p":"i","x":-3.3,"z":14.2},{"p":"i","x":-4.6,"z":14},{"p":"i","x":-6.5,"z":14.9},{"p":"i","x":-9.3,"z":18.8},{"p":"i","x":-11.4,"z":22.4},{"p":"i","x":-13.3,"z":26.6},{"p":"i","x":-14.5,"z":30.9},{"p":"i","x":-14.9,"z":34.5},{"p":"i","x":-14.9,"z":37},{"p":"i","x":-14.4,"z":38.4},{"p":"i","x":-13.5,"z":38.6},{"p":"i","x":-11.7,"z":36.6},{"p":"i","x":-9.3,"z":33.8},{"p":"i","x":-6.3,"z":30.1},{"p":"i","x":-3.9,"z":27},{"p":"i","x":-2.1,"z":24.5},{"p":"i","x":-1.2,"z":23.1},{"p":"i","x":-0.3,"z":20.9},{"p":"i","x":0.2,"z":18.8},{"p":"i","x":0.3,"z":16},{"p":"i","x":0.5,"z":12.4},{"p":"i","x":0.9,"z":9.2},{"p":"i","x":1.8,"z":7.4},{"p":"i","x":3.3,"z":6.7},{"p":"i","x":4.6,"z":7.3},{"p":"i","x":6.9,"z":9.9},{"p":"i","x":10.2,"z":14.5},{"p":"i","x":13.3,"z":20.2},{"p":"i","x":15.7,"z":26.6},{"p":"i","x":17.2,"z":32.3},{"p":"i","x":17.8,"z":37.3},{"p":"i","x":17.8,"z":40.9},{"p":"i","x":17.3,"z":43.2},{"p":"i","x":16.3,"z":44.2},{"p":"i","x":14.8,"z":43.4},{"p":"i","x":12,"z":40.7},{"p":"i","x":9,"z":37.5},{"p":"i","x":6,"z":34.3},{"p":"i","x":3,"z":31.1},{"p":"i","x":0.4,"z":28.2},{"p":"i","x":-1.7,"z":25.8},{"p":"i","x":-3.1,"z":24.1},{"p":"i","x":-3.9,"z":22.6},{"p":"i","x":-4.6,"z":21.2},{"p":"i","x":-5.4,"z":20.6},{"p":"i","x":-6.6,"z":20.4},

      {"p":"j","x":-5.4,"z":18.5},{"p":"j","x":-6.8,"z":19.1},{"p":"j","x":-8.6,"z":21},{"p":"j","x":-10.5,"z":23.7},{"p":"j","x":-12,"z":27},{"p":"j","x":-12.7,"z":30},{"p":"j","x":-12.8,"z":32.4},{"p":"j","x":-12.4,"z":34.2},{"p":"j","x":-11.7,"z":34.8},{"p":"j","x":-10.7,"z":34.4},{"p":"j","x":-9,"z":32.5},{"p":"j","x":-7.2,"z":30.2},{"p":"j","x":-5.5,"z":27.7},{"p":"j","x":-4.1,"z":25},{"p":"j","x":-3.1,"z":22.3},{"p":"j","x":-2.6,"z":20.2},{"p":"j","x":-2.7,"z":18.5},{"p":"j","x":-3.4,"z":17.5},{"p":"j","x":-4.8,"z":17.2},{"p":"j","x":-6.5,"z":17.9},{"p":"j","x":-8.5,"z":20},{"p":"j","x":-10.6,"z":23},{"p":"j","x":-12.3,"z":26.5},{"p":"j","x":-13.3,"z":30},{"p":"j","x":-13.5,"z":33.2},{"p":"j","x":-13.1,"z":35.3},{"p":"j","x":-12.3,"z":36.1},{"p":"j","x":-11.1,"z":35.6},{"p":"j","x":-9.2,"z":33.5},{"p":"j","x":-7.1,"z":31},{"p":"j","x":-5.1,"z":28.2},{"p":"j","x":-3.4,"z":25.2},{"p":"j","x":-2.2,"z":22.3},{"p":"j","x":-1.7,"z":20},{"p":"j","x":-1.7,"z":17.6},{"p":"j","x":-2.3,"z":15.7},{"p":"j","x":-3.3,"z":15},{"p":"j","x":-4.5,"z":14.9},{"p":"j","x":-6.3,"z":15.5},{"p":"j","x":-8.4,"z":17.8},{"p":"j","x":-10.6,"z":21.1},{"p":"j","x":-12.5,"z":25},{"p":"j","x":-13.7,"z":29},{"p":"j","x":-14.2,"z":32.5},{"p":"j","x":-14.1,"z":35.5},{"p":"j","x":-13.6,"z":37.2},{"p":"j","x":-13.1,"z":37.6},{"p":"j","x":-11.9,"z":37.2},{"p":"j","x":-9.7,"z":35.1},{"p":"j","x":-7.3,"z":32.3},{"p":"j","x":-4.9,"z":29.3},{"p":"j","x":-3,"z":26.1},{"p":"j","x":-1.8,"z":23.1},{"p":"j","x":-1.3,"z":20.5},{"p":"j","x":-1.2,"z":18.2},{"p":"j","x":-1.2,"z":16},{"p":"j","x":-1.5,"z":13.5},{"p":"j","x":-2.4,"z":11.8},{"p":"j","x":-4.1,"z":11.3},{"p":"j","x":-5.4,"z":12.1},{"p":"j","x":-7.8,"z":15.3},{"p":"j","x":-10.8,"z":19.6},{"p":"j","x":-13.3,"z":24.6},{"p":"j","x":-15.1,"z":29.6},{"p":"j","x":-15.8,"z":33.8},{"p":"j","x":-15.8,"z":37.4},{"p":"j","x":-15.3,"z":39.5},{"p":"j","x":-14.6,"z":40.4},{"p":"j","x":-13.3,"z":40.2},{"p":"j","x":-10.8,"z":38.1},{"p":"j","x":-7.8,"z":34.5},{"p":"j","x":-4.8,"z":30.6},{"p":"j","x":-2.4,"z":27.4},{"p":"j","x":-0.6,"z":25.1},{"p":"j","x":0.6,"z":23.9},{"p":"j","x":1.2,"z":21.8},{"p":"j","x":1.9,"z":19.5},{"p":"j","x":2.8,"z":17.3},{"p":"j","x":3.8,"z":15.2},{"p":"j","x":5,"z":14.5},{"p":"j","x":6.6,"z":15},{"p":"j","x":8.8,"z":17.1},{"p":"j","x":10.9,"z":20.3},{"p":"j","x":12.7,"z":24.2},{"p":"j","x":14,"z":28.4},{"p":"j","x":14.7,"z":32.1},{"p":"j","x":14.8,"z":35},{"p":"j","x":14.4,"z":37.3},{"p":"j","x":13.3,"z":38.2},{"p":"j","x":12.3,"z":37.9},{"p":"j","x":10.3,"z":36.4},{"p":"j","x":7.8,"z":33.8},{"p":"j","x":5.5,"z":30.8},{"p":"j","x":3.6,"z":27.8},{"p":"j","x":2.1,"z":24.8},{"p":"j","x":1.2,"z":22.2},{"p":"j","x":0.8,"z":19.5},{"p":"j","x":0.7,"z":16.5},{"p":"j","x":0.8,"z":13.5},{"p":"j","x":1.3,"z":10.9},{"p":"j","x":2.2,"z":9},{"p":"j","x":3.5,"z":8.2},{"p":"j","x":5.4,"z":8.8},{"p":"j","x":7.8,"z":11},{"p":"j","x":10.4,"z":14.8},{"p":"j","x":12.9,"z":19.7},{"p":"j","x":15,"z":25.2},{"p":"j","x":16.4,"z":30.6},{"p":"j","x":17.2,"z":35.5},{"p":"j","x":17.3,"z":39.5},{"p":"j","x":16.8,"z":42},{"p":"j","x":15.5,"z":43},{"p":"j","x":14.3,"z":42.4},{"p":"j","x":11.5,"z":40},{"p":"j","x":8.5,"z":37},{"p":"j","x":5.5,"z":33.8},{"p":"j","x":2.6,"z":30.6},{"p":"j","x":0,"z":27.6},{"p":"j","x":-1.8,"z":25.3},{"p":"j","x":-2.9,"z":23.4},{"p":"j","x":-3.3,"z":21.4},{"p":"j","x":-3.6,"z":19.6},{"p":"j","x":-4.3,"z":18.7},{"p":"j","x":-5.4,"z":18.5},

      {"p":"k","x":-5.2,"z":17.8},{"p":"k","x":-6.6,"z":18.3},{"p":"k","x":-8.5,"z":20.3},{"p":"k","x":-10.5,"z":23.2},{"p":"k","x":-12.1,"z":26.6},{"p":"k","x":-13,"z":30},{"p":"k","x":-13.2,"z":33.1},{"p":"k","x":-12.8,"z":35},{"p":"k","x":-12,"z":35.6},{"p":"k","x":-11,"z":35.2},{"p":"k","x":-9.2,"z":33.2},{"p":"k","x":-7.3,"z":30.8},{"p":"k","x":-5.5,"z":28.2},{"p":"k","x":-4,"z":25.4},{"p":"k","x":-3,"z":22.6},{"p":"k","x":-2.5,"z":20.3},{"p":"k","x":-2.5,"z":18.3},{"p":"k","x":-3,"z":16.7},{"p":"k","x":-3.8,"z":16},{"p":"k","x":-4.9,"z":15.8},
      {"p":"k","x":-6.6,"z":16.4},{"p":"k","x":-8.6,"z":18.6},{"p":"k","x":-10.7,"z":21.8},{"p":"k","x":-12.5,"z":25.5},{"p":"k","x":-13.8,"z":29.5},{"p":"k","x":-14.3,"z":32.5},{"p":"k","x":-14.3,"z":34.6},{"p":"k","x":-13.8,"z":36.3},{"p":"k","x":-12.8,"z":37},{"p":"k","x":-11.6,"z":36.6},{"p":"k","x":-9.5,"z":34.7},{"p":"k","x":-7.2,"z":32},{"p":"k","x":-5,"z":29.1},{"p":"k","x":-3.2,"z":26.1},{"p":"k","x":-2,"z":23.1},{"p":"k","x":-1.6,"z":20.5},{"p":"k","x":-1.6,"z":18},{"p":"k","x":-2,"z":15.8},{"p":"k","x":-2.8,"z":14.2},{"p":"k","x":-3.6,"z":13.6},{"p":"k","x":-4.6,"z":13.5},
      {"p":"k","x":-6.3,"z":14},{"p":"k","x":-8.2,"z":15.8},{"p":"k","x":-10.3,"z":18.9},{"p":"k","x":-12.2,"z":22.5},{"p":"k","x":-13.7,"z":26.2},{"p":"k","x":-14.7,"z":30},{"p":"k","x":-15.2,"z":33.3},{"p":"k","x":-15.2,"z":35.8},{"p":"k","x":-14.9,"z":37.7},{"p":"k","x":-14.3,"z":38.8},{"p":"k","x":-13.7,"z":39},{"p":"k","x":-12.5,"z":38.5},{"p":"k","x":-10.3,"z":36.4},{"p":"k","x":-7.8,"z":33.7},{"p":"k","x":-5.4,"z":30.8},{"p":"k","x":-3.4,"z":28},{"p":"k","x":-1.9,"z":25.6},{"p":"k","x":-0.8,"z":23.8},{"p":"k","x":0,"z":22.2},{"p":"k","x":0.5,"z":20.3},{"p":"k","x":0.8,"z":17.8},{"p":"k","x":1,"z":15},{"p":"k","x":1.4,"z":12.4},{"p":"k","x":2.2,"z":10.2},{"p":"k","x":3.8,"z":9},
      {"p":"k","x":5.6,"z":9.6},{"p":"k","x":7.9,"z":11.8},{"p":"k","x":10.4,"z":15.4},{"p":"k","x":12.8,"z":20},{"p":"k","x":14.7,"z":25},{"p":"k","x":16,"z":30.2},{"p":"k","x":16.6,"z":35},{"p":"k","x":16.7,"z":38.8},{"p":"k","x":16.3,"z":41.3},{"p":"k","x":15.7,"z":42.3},{"p":"k","x":15.1,"z":42.5},{"p":"k","x":13.8,"z":42},{"p":"k","x":11.2,"z":39.7},{"p":"k","x":8.3,"z":36.7},{"p":"k","x":5.3,"z":33.4},{"p":"k","x":2.6,"z":30.2},{"p":"k","x":0.4,"z":27.2},{"p":"k","x":-1,"z":25},{"p":"k","x":-1.8,"z":23.2},{"p":"k","x":-2.2,"z":21},{"p":"k","x":-2.3,"z":18.5},{"p":"k","x":-2.5,"z":16},{"p":"k","x":-3,"z":14.2},{"p":"k","x":-3.7,"z":13},{"p":"k","x":-4.6,"z":12.6},
      {"p":"k","x":-6.4,"z":13.1},{"p":"k","x":-8.4,"z":15},{"p":"k","x":-10.5,"z":18.2},{"p":"k","x":-12.3,"z":21.8},{"p":"k","x":-13.8,"z":25.6},{"p":"k","x":-14.9,"z":29.5},{"p":"k","x":-15.4,"z":33},{"p":"k","x":-15.5,"z":36.5},{"p":"k","x":-15.2,"z":38.6},{"p":"k","x":-14.7,"z":39.5},{"p":"k","x":-14,"z":39.7},{"p":"k","x":-12.8,"z":39.2},{"p":"k","x":-10.6,"z":37.2},{"p":"k","x":-8,"z":34.4},{"p":"k","x":-5.5,"z":31.4},{"p":"k","x":-3.4,"z":28.5},{"p":"k","x":-1.9,"z":26},{"p":"k","x":-0.8,"z":24},{"p":"k","x":0,"z":22.4},{"p":"k","x":0.5,"z":20.5},{"p":"k","x":0.9,"z":18.2},{"p":"k","x":1.3,"z":15.8},{"p":"k","x":2,"z":13.8},{"p":"k","x":3,"z":12.4},{"p":"k","x":4.5,"z":12},
      {"p":"k","x":6.2,"z":12.6},{"p":"k","x":8.3,"z":14.6},{"p":"k","x":10.4,"z":17.8},{"p":"k","x":12.3,"z":21.7},{"p":"k","x":13.9,"z":25.9},{"p":"k","x":15,"z":30},{"p":"k","x":15.7,"z":33.9},{"p":"k","x":15.8,"z":37.4},{"p":"k","x":15.4,"z":39.5},{"p":"k","x":14.9,"z":40.3},{"p":"k","x":14.3,"z":40.4},{"p":"k","x":13.1,"z":39.8},{"p":"k","x":10.8,"z":37.7},{"p":"k","x":8.1,"z":34.9},{"p":"k","x":5.4,"z":31.8},{"p":"k","x":3.1,"z":28.8},{"p":"k","x":1.4,"z":26.3},{"p":"k","x":0.4,"z":24.6},{"p":"k","x":-0.8,"z":23},{"p":"k","x":-1.9,"z":21.4},{"p":"k","x":-2.7,"z":19.6},{"p":"k","x":-3.6,"z":18.3},{"p":"k","x":-5.2,"z":17.8},

      {"p":"l","x":-5,"z":15.7},{"p":"l","x":-6.7,"z":16.3},{"p":"l","x":-8.8,"z":18.6},{"p":"l","x":-10.9,"z":22},{"p":"l","x":-12.7,"z":25.8},{"p":"l","x":-13.8,"z":29.8},{"p":"l","x":-14.2,"z":32.5},{"p":"l","x":-14.2,"z":34.5},{"p":"l","x":-13.8,"z":36.5},{"p":"l","x":-12.8,"z":37.3},{"p":"l","x":-11.6,"z":36.9},{"p":"l","x":-9.4,"z":34.9},{"p":"l","x":-7,"z":32.2},{"p":"l","x":-4.8,"z":29.3},{"p":"l","x":-3,"z":26.3},{"p":"l","x":-1.9,"z":23.3},{"p":"l","x":-1.3,"z":20.7},{"p":"l","x":-1.1,"z":18},{"p":"l","x":-1.2,"z":15.5},{"p":"l","x":-1.6,"z":13.2},{"p":"l","x":-2.4,"z":11.6},{"p":"l","x":-3.8,"z":11},
      {"p":"l","x":-5.6,"z":11.5},{"p":"l","x":-7.8,"z":13.5},{"p":"l","x":-10.2,"z":17},{"p":"l","x":-12.4,"z":21.2},{"p":"l","x":-14.2,"z":25.8},{"p":"l","x":-15.4,"z":30.2},{"p":"l","x":-16,"z":34.2},{"p":"l","x":-16.1,"z":37.7},{"p":"l","x":-15.7,"z":40},{"p":"l","x":-14.8,"z":41},{"p":"l","x":-13.6,"z":40.7},{"p":"l","x":-11.2,"z":38.6},{"p":"l","x":-8.3,"z":35.5},{"p":"l","x":-5.5,"z":32.2},{"p":"l","x":-3.1,"z":29},{"p":"l","x":-1.3,"z":26.3},{"p":"l","x":0,"z":24.2},{"p":"l","x":0.7,"z":22.1},{"p":"l","x":1.1,"z":19.6},{"p":"l","x":1.5,"z":17},{"p":"l","x":2.3,"z":14.8},{"p":"l","x":3.3,"z":13.4},{"p":"l","x":4.8,"z":13},
      {"p":"l","x":6.5,"z":13.5},{"p":"l","x":8.6,"z":15.6},{"p":"l","x":10.8,"z":19},{"p":"l","x":12.8,"z":23},{"p":"l","x":14.5,"z":27.5},{"p":"l","x":15.6,"z":32},{"p":"l","x":16,"z":36.7},{"p":"l","x":15.6,"z":38.6},{"p":"l","x":14.8,"z":39.3},{"p":"l","x":13.6,"z":38.8},{"p":"l","x":11.3,"z":36.8},{"p":"l","x":8.6,"z":34},{"p":"l","x":5.9,"z":31},{"p":"l","x":3.5,"z":28},{"p":"l","x":1.6,"z":25.6},{"p":"l","x":0.3,"z":23.6},{"p":"l","x":-0.7,"z":21.8},{"p":"l","x":-1.3,"z":19.5},{"p":"l","x":-1.6,"z":17},{"p":"l","x":-2,"z":14.8},{"p":"l","x":-2.7,"z":13},{"p":"l","x":-3.9,"z":12.1},
      {"p":"l","x":-5.7,"z":12.6},{"p":"l","x":-7.9,"z":14.5},{"p":"l","x":-10.2,"z":17.8},{"p":"l","x":-12.3,"z":21.8},{"p":"l","x":-14,"z":26},{"p":"l","x":-15.1,"z":30.2},{"p":"l","x":-15.6,"z":34},{"p":"l","x":-15.7,"z":37},{"p":"l","x":-15.3,"z":39.2},{"p":"l","x":-14.3,"z":40},{"p":"l","x":-13.1,"z":39.7},{"p":"l","x":-10.8,"z":37.6},{"p":"l","x":-8,"z":34.7},{"p":"l","x":-5.3,"z":31.5},{"p":"l","x":-3,"z":28.4},{"p":"l","x":-1.2,"z":25.8},{"p":"l","x":0.2,"z":23.8},{"p":"l","x":1.1,"z":21.8},{"p":"l","x":1.8,"z":19.6},{"p":"l","x":2.6,"z":17.4},{"p":"l","x":3.6,"z":15.8},{"p":"l","x":5,"z":15.2},
      {"p":"l","x":6.7,"z":15.8},{"p":"l","x":8.8,"z":17.9},{"p":"l","x":10.9,"z":21.3},{"p":"l","x":12.7,"z":25.2},{"p":"l","x":13.9,"z":29.3},{"p":"l","x":14.5,"z":32.5},{"p":"l","x":14.5,"z":34.9},{"p":"l","x":14.1,"z":37},{"p":"l","x":13.1,"z":37.9},{"p":"l","x":11.9,"z":37.5},{"p":"l","x":9.7,"z":35.6},{"p":"l","x":7.2,"z":32.9},{"p":"l","x":4.9,"z":29.9},{"p":"l","x":3.1,"z":26.9},{"p":"l","x":1.8,"z":23.8},{"p":"l","x":1.1,"z":21},{"p":"l","x":0.8,"z":18},{"p":"l","x":0.8,"z":15.3},{"p":"l","x":1.1,"z":12.8},{"p":"l","x":1.9,"z":11.1},{"p":"l","x":3.9,"z":10.5},
      {"p":"l","x":5.8,"z":11.1},{"p":"l","x":8.1,"z":13.2},{"p":"l","x":10.5,"z":16.8},{"p":"l","x":12.7,"z":21},{"p":"l","x":14.5,"z":25.7},{"p":"l","x":15.7,"z":30.3},{"p":"l","x":16.3,"z":34.6},{"p":"l","x":16.4,"z":38.1},{"p":"l","x":16.1,"z":40.3},{"p":"l","x":15.4,"z":41.3},{"p":"l","x":14.2,"z":41},{"p":"l","x":11.8,"z":38.9},{"p":"l","x":8.9,"z":35.9},{"p":"l","x":5.9,"z":32.6},{"p":"l","x":3.2,"z":29.4},{"p":"l","x":1.4,"z":26.8},{"p":"l","x":0.2,"z":24.8},{"p":"l","x":-0.7,"z":23.2},{"p":"l","x":-1.6,"z":21.2},{"p":"l","x":-2.4,"z":19.2},{"p":"l","x":-3.2,"z":17.2},{"p":"l","x":-4,"z":16},{"p":"l","x":-5,"z":15.7}
    ]
  },
  "data": {"name": "orbits"},
  "transform": [
    {"lookup": "p", "from": {"data": {"name": "captions"}, "key": "p", "fields": ["caption"]}}
  ],
  "facet": {
    "field": "caption",
    "type": "nominal",
    "title": null,
    "header": {
      "labelOrient": "bottom",
      "labelFont": "DejaVu Serif",
      "labelFontSize": 21.5,
      "labelColor": "#000000",
      "labelPadding": 18
    }
  },
  "columns": 3,
  "spacing": {"row": 46, "column": 53},
  "resolve": {"axis": {"x": "independent", "y": "independent"}},
  "spec": {
    "width": 221,
    "height": 234,
    "mark": {"type": "line", "interpolate": "catmull-rom", "strokeWidth": 1.4, "color": "#0072bd", "clip": true},
    "encoding": {
      "x": {
        "field": "x",
        "type": "quantitative",
        "scale": {"domain": [-20, 20], "nice": false, "zero": false},
        "axis": {"values": [-20, -15, -10, -5, 0, 5, 10, 15, 20], "title": "x"}
      },
      "y": {
        "field": "z",
        "type": "quantitative",
        "scale": {"domain": [0, 50], "nice": false},
        "axis": {"values": [0, 5, 10, 15, 20, 25, 30, 35, 40, 45, 50], "title": "z"}
      },
      "order": {"value": null}
    }
  },
  "config": {
    "view": {"stroke": null},
    "axis": {
      "labelFont": "Liberation Sans",
      "labelFontSize": 7,
      "labelColor": "#262626",
      "titleFont": "Liberation Sans",
      "titleFontSize": 8,
      "titleFontWeight": "normal",
      "titleColor": "#262626",
      "gridColor": "#e3e3e3",
      "gridWidth": 0.8,
      "domainColor": "#262626",
      "domainWidth": 1,
      "ticks": false,
      "labelPadding": 3
    },
    "axisX": {"titlePadding": 11},
    "axisY": {"titlePadding": 4}
  }
}
